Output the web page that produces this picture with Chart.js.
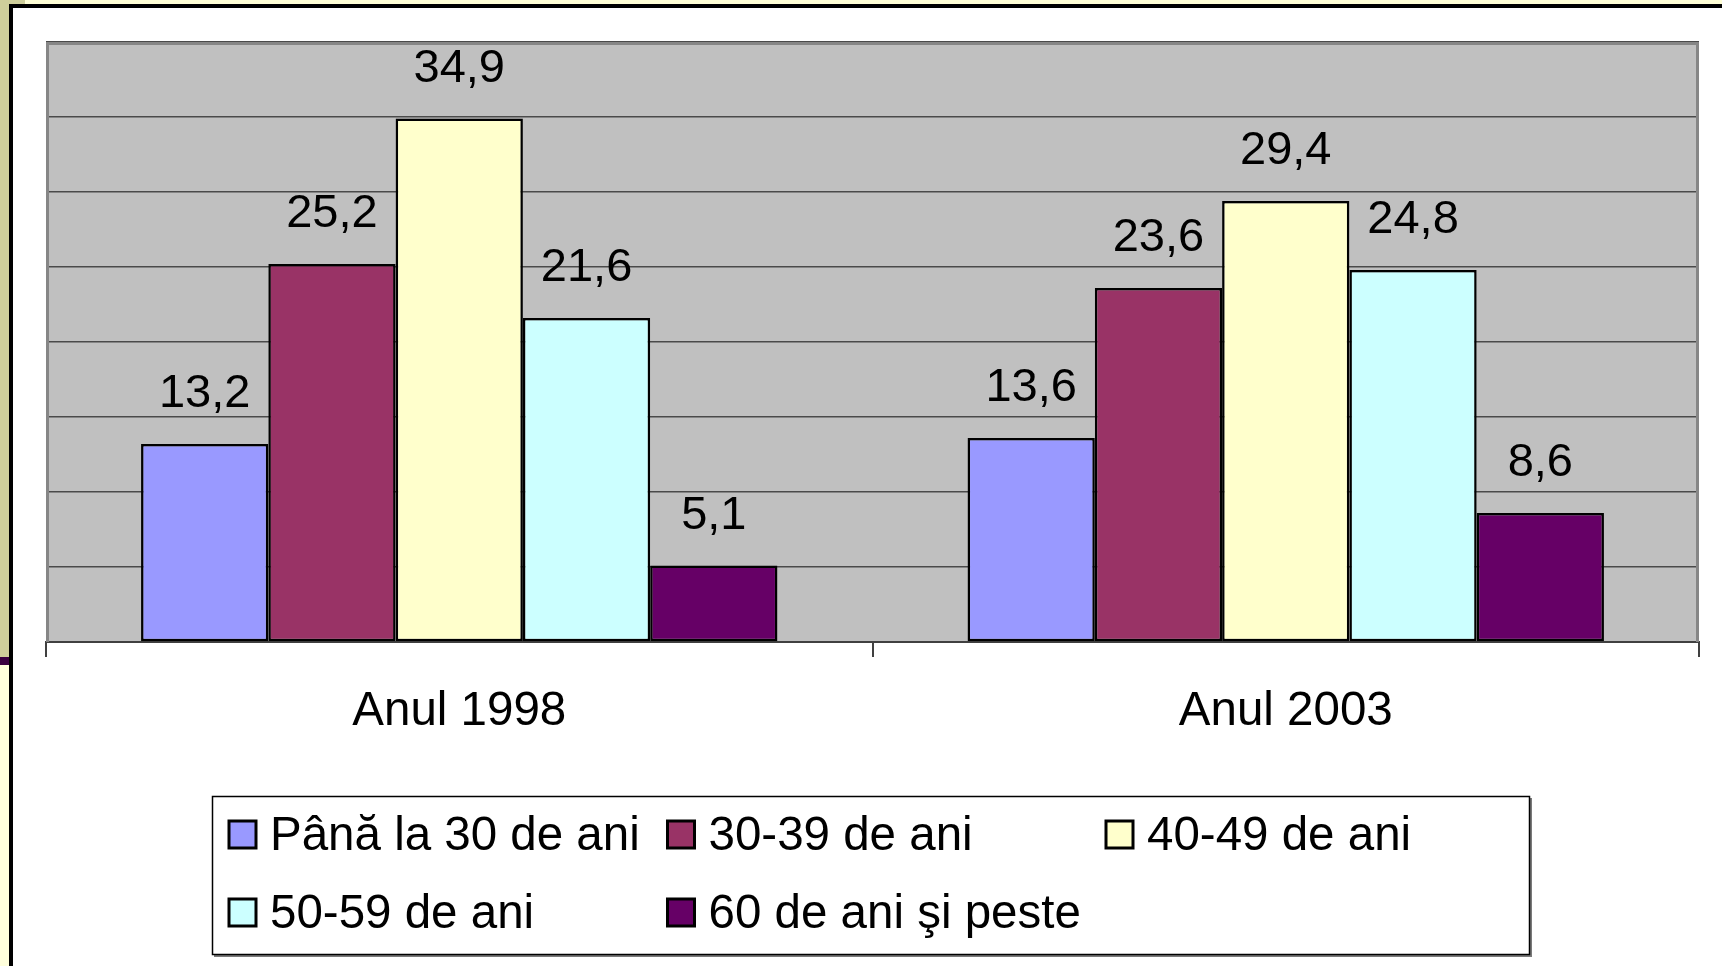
<!DOCTYPE html>
<html>
<head>
<meta charset="utf-8">
<script src="https://cdn.jsdelivr.net/npm/chart.js@4"></script>
<style>
  html, body { margin: 0; padding: 0; background: #fff; }
  body { width: 1722px; height: 966px; position: relative; overflow: hidden; }
  .strip-left { position: absolute; left: 0; top: 0; width: 9px; height: 657px; background: #cfcf9b; }
  .strip-purple { position: absolute; left: 0; top: 657px; width: 9px; height: 8px; background: #3a0040; }
  .strip-low { position: absolute; left: 0; top: 665px; width: 9px; height: 301px; background: #ffffdc; }
  .strip-top { position: absolute; left: 25px; top: 0; right: 0; height: 4px; background: #ffffd6; }
  .strip-topl { position: absolute; left: 0; top: 0; width: 25px; height: 4px; background: #cfcf9b; }
  .line-top { position: absolute; left: 9px; top: 4px; right: 0; height: 4px; background: #000; }
  .line-left { position: absolute; left: 9px; top: 4px; width: 4px; bottom: 0; background: #000; }
  canvas { position: absolute; left: 0; top: 0; }
</style>
</head>
<body>
<div class="strip-left"></div><div class="strip-purple"></div><div class="strip-low"></div>
<div class="strip-topl"></div><div class="strip-top"></div>
<div class="line-top"></div><div class="line-left"></div>
<canvas id="graph" width="1722" height="966"></canvas>
<script>
const years = ['Anul 1998', 'Anul 2003']
const groups = ['Până la 30 de ani', '30-39 de ani', '40-49 de ani', '50-59 de ani', '60 de ani şi peste']
const under30 = [13.2, 13.6]
const age30to39 = [25.2, 23.6]
const age40to49 = [34.9, 29.4]
const age50to59 = [21.6, 24.8]
const over60 = [5.1, 8.6]
const colors = ['#9999ff', '#993366', '#ffffcc', '#ccffff', '#660066']

const FONT = '"Liberation Sans", Arial, sans-serif'

const plotFrame = {
  id: 'plotFrame',
  beforeDraw(chart) {
    const { ctx, chartArea: { left, top, right, bottom } } = chart
    ctx.save()
    ctx.fillStyle = '#c0c0c0'
    ctx.fillRect(left, top, right - left, bottom - top)
    ctx.restore()
  },
  beforeDatasetsDraw(chart) {
    const { ctx, chartArea: { left, top, right, bottom } } = chart
    ctx.save()
    ctx.strokeStyle = '#868686'
    ctx.lineWidth = 3
    ctx.beginPath()
    ctx.moveTo(left + 1.5, bottom)
    ctx.lineTo(left + 1.5, top + 1.5)
    ctx.lineTo(right - 1.5, top + 1.5)
    ctx.lineTo(right - 1.5, bottom)
    ctx.stroke()
    ctx.restore()
  }
}

const valueLabels = {
  id: 'valueLabels',
  afterDatasetsDraw(chart) {
    const { ctx } = chart
    ctx.save()
    ctx.font = '47px ' + FONT
    ctx.fillStyle = '#000'
    ctx.textAlign = 'center'
    ctx.textBaseline = 'alphabetic'
    chart.data.datasets.forEach((ds, i) => {
      chart.getDatasetMeta(i).data.forEach((bar, j) => {
        ctx.fillText(ds.data[j].toFixed(1).replace('.', ','), bar.x, bar.y - 37)
      })
    })
    ctx.restore()
  }
}

const boxLegend = {
  id: 'boxLegend',
  afterDraw(chart) {
    const { ctx } = chart
    ctx.save()
    // box
    ctx.fillStyle = '#7a7a7a'
    ctx.fillRect(214, 798, 1318, 159)
    ctx.fillStyle = '#fff'
    ctx.fillRect(212, 796, 1318, 159)
    ctx.strokeStyle = '#000'
    ctx.lineWidth = 1.5
    ctx.strokeRect(212.5, 796.5, 1317, 158)

    ctx.font = '47.5px ' + FONT
    ctx.textBaseline = 'alphabetic'
    ctx.textAlign = 'left'
    chart.data.datasets.forEach((ds, i) => {
      const col = i % 3
      const row = Math.floor(i / 3)
      const x = 229 + col * 438.5
      const base = 850 + row * 78
      ctx.fillStyle = ds.backgroundColor
      ctx.fillRect(x, base - 29, 27, 27)
      ctx.strokeStyle = '#000'
      ctx.lineWidth = 3
      ctx.strokeRect(x, base - 29, 27, 27)
      ctx.fillStyle = '#000'
      ctx.fillText(ds.label, x + 41, base)
    })
    ctx.restore()
  }
}

const seriesValues = [under30, age30to39, age40to49, age50to59, over60]

new Chart(document.getElementById('graph'), {
  type: 'bar',
  plugins: [plotFrame, valueLabels, boxLegend],
  data: {
    labels: years,
    datasets: groups.map((g, i) => ({
      label: g,
      data: seriesValues[i],
      backgroundColor: colors[i],
      borderColor: '#000',
      borderWidth: 2.5,
      borderSkipped: false,
      barPercentage: 1,
      categoryPercentage: 0.77
    }))
  },
  options: {
    responsive: false,
    animation: false,
    layout: { padding: { left: 46, top: 42, right: 23, bottom: 0 } },
    plugins: { legend: { display: false }, tooltip: { enabled: false } },
    scales: {
      x: {
        afterFit(scale) { scale.height = 324 },
        grid: { drawOnChartArea: false, drawTicks: true, tickLength: 15, color: '#404040', lineWidth: 2 },
        border: { display: true, color: '#404040', width: 2 },
        ticks: { color: '#000', font: { family: FONT, size: 47.5 }, padding: 26 }
      },
      y: {
        min: 0,
        max: 40,
        afterFit(scale) { scale.width = 0 },
        grid: { color: '#4a4a4a', lineWidth: 1.5, drawTicks: false },
        border: { display: false },
        ticks: { display: false, stepSize: 5 }
      }
    }
  }
})
</script>
</body>
</html>
